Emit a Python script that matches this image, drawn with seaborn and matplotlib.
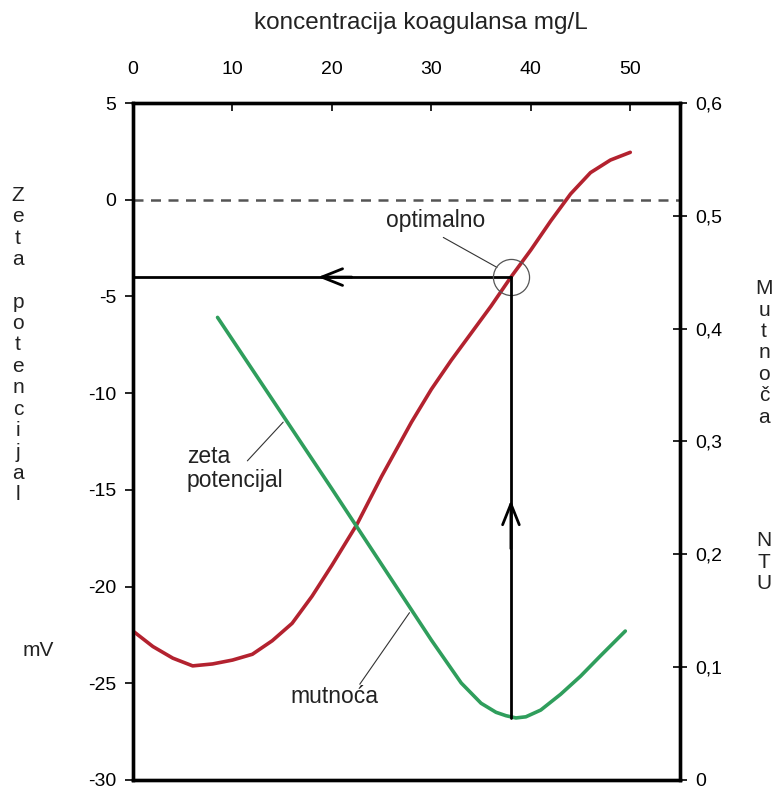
import numpy as np
import pandas as pd
import matplotlib
matplotlib.use("Agg")
import matplotlib.pyplot as plt
import seaborn as sns

# ---- data ----
zeta_dose = [0, 2, 4, 6, 8, 10, 12, 14, 16, 18, 20, 22.5, 25, 28, 30, 32, 34,
             36, 38, 40, 42, 44, 46, 48, 50]
zeta_mv = [-22.3, -23.1, -23.7, -24.1, -24.0, -23.8, -23.5, -22.8, -21.9, -20.5,
           -18.9, -16.8, -14.3, -11.5, -9.8, -8.3, -6.9, -5.5, -4.0, -2.6,
           -1.1, 0.3, 1.4, 2.05, 2.45]

turb_dose = [8.5, 20, 30, 33, 35, 36.5, 37.5, 38.5, 39.5, 41, 43, 45, 47, 49.5]
turb_ntu = [0.410, 0.258, 0.124, 0.086, 0.068, 0.060, 0.057, 0.055, 0.056,
            0.062, 0.076, 0.092, 0.110, 0.132]

x_ticks = [0, 10, 20, 30, 40, 50]
left_ticks = [5, 0, -5, -10, -15, -20, -25, -30]
right_ticks = [0, 0.1, 0.2, 0.3, 0.4, 0.5, 0.6]
right_labels = ["0", "0,1", "0,2", "0,3", "0,4", "0,5", "0,6"]

optimum_dose = 38
optimum_zeta = -4

title = "koncentracija koagulansa mg/L"
left_label = "Z\ne\nt\na\n\np\no\nt\ne\nn\nc\ni\nj\na\nl"
right_label_1 = "M\nu\nt\nn\no\nč\na"
right_label_2 = "N\nT\nU"

RED = "#b3222f"
GREEN = "#2f9e5c"

sns.set_style("white")
plt.rcParams["font.family"] = ["Liberation Sans", "DejaVu Sans"]

fig = plt.figure(figsize=(7.77, 7.90), dpi=100)
TOP_PX, BOT_PX = 103, 780
ax = fig.add_axes([133 / 777, 1 - BOT_PX / 790, (680 - 133) / 777, (BOT_PX - TOP_PX) / 790])
ax2 = ax.twinx()

zdf = pd.DataFrame({"dose": zeta_dose, "zeta": zeta_mv})
tdf = pd.DataFrame({"dose": turb_dose, "ntu": turb_ntu})

XMIN, XMAX = 0, 55.0
YMIN, YMAX = -30, 5
RMIN, RMAX = 0, 0.6

# dashed zero line
ax.axhline(0, color="#555555", lw=1.8, ls=(0, (4, 3)), zorder=1)

sns.lineplot(data=zdf, x="dose", y="zeta", ax=ax, color=RED, lw=2.6, zorder=3)
sns.lineplot(data=tdf, x="dose", y="ntu", ax=ax2, color=GREEN, lw=2.6, zorder=3)

ax.set_xlim(XMIN, XMAX)
ax.set_ylim(YMIN, YMAX)
ax2.set_ylim(RMIN, RMAX)

# optimum construction lines
ax.plot([XMIN, optimum_dose], [optimum_zeta, optimum_zeta], color="black", lw=2.0, zorder=4)
min_ntu = min(turb_ntu)
opt_ntu = (optimum_zeta - YMIN) / (YMAX - YMIN) * (RMAX - RMIN) + RMIN
ax2.plot([optimum_dose, optimum_dose], [min_ntu, opt_ntu], color="black", lw=2.0, zorder=4)

# arrowheads
arrow_style = "->,head_length=1.5,head_width=0.6"
ax.annotate("", xy=(18.6, optimum_zeta), xytext=(22.0, optimum_zeta),
            arrowprops=dict(arrowstyle=arrow_style, color="black", lw=2.0, shrinkA=0, shrinkB=0))
ax2.annotate("", xy=(optimum_dose, 0.248), xytext=(optimum_dose, 0.205),
             arrowprops=dict(arrowstyle=arrow_style, color="black", lw=2.0, shrinkA=0, shrinkB=0))

# circle around optimum
ax.plot([optimum_dose], [optimum_zeta], marker="o", ms=26, mfc="none", mec="#555555", mew=0.9, zorder=5)

# labels with leader lines
ax.text(25.4, -1.1, "optimalno", fontsize=16.5, va="center", ha="left", color="#222222")
ax.plot([31.2, 36.6], [-1.95, -3.5], color="#333333", lw=0.8)

ax.text(5.4, -13.9, "zeta\npotencijal", fontsize=16.5, va="center", ha="left", color="#222222", linespacing=1.05)
ax.plot([11.5, 15.1], [-13.5, -11.5], color="#333333", lw=0.8)

ax.text(15.8, -25.7, "mutnoća", fontsize=16.5, va="center", ha="left", color="#222222")
ax.plot([22.8, 27.8], [-25.05, -21.35], color="#333333", lw=0.8)

# axes styling
ax.xaxis.set_ticks_position("top")
ax.xaxis.set_label_position("top")
ax.set_xticks(x_ticks)
ax.set_xticklabels([str(v) for v in x_ticks])
ax.set_yticks(left_ticks)
ax.set_yticklabels([str(v) for v in left_ticks])
ax2.set_yticks(right_ticks)
ax2.set_yticklabels(right_labels)
ax.set_xlabel("")
ax.set_ylabel("")
ax2.set_ylabel("")

ax.tick_params(axis="x", which="both", direction="in", length=6, width=1.2, labelsize=14,
               pad=18, colors="black", top=True, bottom=False, labeltop=True, labelbottom=False)
ax.tick_params(axis="y", direction="out", length=6, width=1.2, labelsize=14, pad=6,
               left=True, right=False, colors="black")
ax2.tick_params(axis="y", direction="inout", length=10, width=1.2, labelsize=14, pad=6,
                right=True, colors="black")

for a in (ax, ax2):
    for s in a.spines.values():
        s.set_visible(True)
        s.set_color("black")
        s.set_linewidth(2.4)

fig.text(421 / 777, 1 - 23 / 790, title, fontsize=17.5, ha="center", va="center", color="#222222")
fig.text(18 / 777, 1 - 345 / 790, left_label, fontsize=15, ha="center", va="center",
         linespacing=1.16, color="#222222")
fig.text(38 / 777, 1 - 650 / 790, "mV", fontsize=15, ha="center", va="center", color="#222222")
fig.text(764 / 777, 1 - 353 / 790, right_label_1, fontsize=15, ha="center", va="center",
         linespacing=1.16, color="#222222")
fig.text(764 / 777, 1 - 562 / 790, right_label_2, fontsize=15, ha="center", va="center",
         linespacing=1.16, color="#222222")

fig.savefig("out.png", dpi=100, facecolor="white")
